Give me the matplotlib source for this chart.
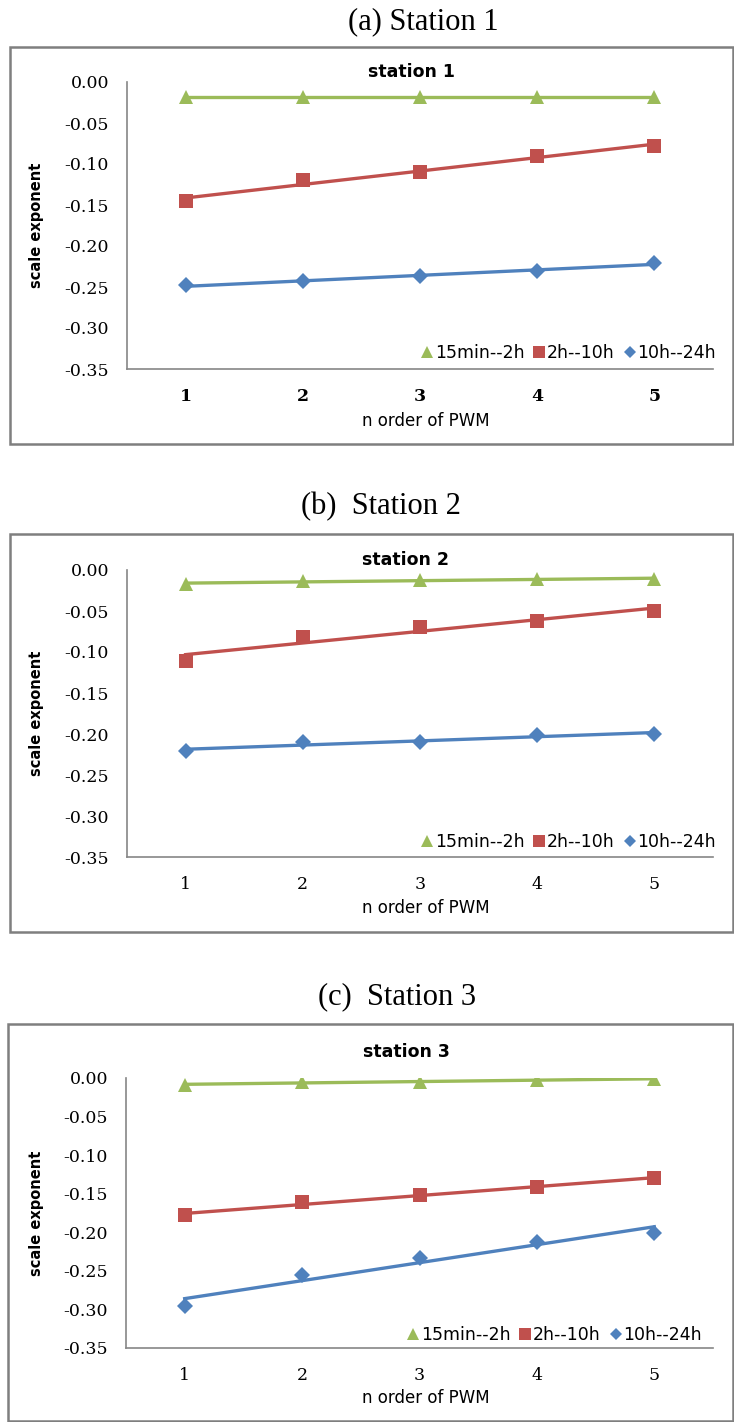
import numpy as np
import matplotlib
matplotlib.use("Agg")
import matplotlib.pyplot as plt
from matplotlib.patches import Rectangle
from matplotlib.lines import Line2D

W, H = 734, 1422

orders = [1, 2, 3, 4, 5]
series_names = ["15min--2h", "2h--10h", "10h--24h"]
panel_titles = ["(a) Station 1", "(b)  Station 2", "(c)  Station 3"]
chart_titles = ["station 1", "station 2", "station 3"]
yticks = [0.00, -0.05, -0.10, -0.15, -0.20, -0.25, -0.30, -0.35]

# scale exponents per station, one list per time-scale band
st1_short = [-0.018, -0.018, -0.018, -0.018, -0.018]
st1_mid = [-0.145, -0.120, -0.110, -0.090, -0.078]
st1_long = [-0.248, -0.243, -0.237, -0.230, -0.221]

st2_short = [-0.017, -0.014, -0.012, -0.011, -0.011]
st2_mid = [-0.111, -0.082, -0.069, -0.062, -0.050]
st2_long = [-0.221, -0.210, -0.210, -0.201, -0.200]

st3_short = [-0.009, -0.005, -0.005, -0.003, -0.001]
st3_mid = [-0.178, -0.161, -0.152, -0.141, -0.130]
st3_long = [-0.296, -0.255, -0.233, -0.212, -0.201]

stations = [
    [st1_short, st1_mid, st1_long],
    [st2_short, st2_mid, st2_long],
    [st3_short, st3_mid, st3_long],
]

colors = ["#9BBB59", "#C0504D", "#4F81BD"]
markers = ["^", "s", "D"]
msizes = [10.5, 10.5, 8]

# pixel layout of each panel: box, axes, text rows
layout = [
    dict(box=(10, 47, 733, 444), ax=(127, 82, 713, 369), title=(423, 22),
         sub=(412, 72), xlab=(426, 421), leg=(716, 353)),
    dict(box=(10, 534, 733, 932), ax=(127, 570, 713, 857), title=(381, 507),
         sub=(406, 560), xlab=(426, 908), leg=(716, 842)),
    dict(box=(8, 1024, 733, 1421), ax=(126, 1078, 713, 1348), title=(397, 997),
         sub=(406, 1052), xlab=(426, 1398), leg=(702, 1335)),
]


def fx(px):
    return px / W


def fy(py):
    return 1 - py / H


fig = plt.figure(figsize=(W / 100, H / 100), dpi=100)
fig.patch.set_facecolor("white")

for i, (data, lay) in enumerate(zip(stations, layout)):
    x0, y0, x1, y1 = lay["box"]
    fig.patches.append(Rectangle((fx(x0), fy(y1)), fx(x1) - fx(x0), fy(y0) - fy(y1),
                                 transform=fig.transFigure, fill=False,
                                 edgecolor="#7f7f7f", linewidth=1.8))
    fig.text(fx(lay["title"][0]), fy(lay["title"][1]), panel_titles[i],
             family="Liberation Serif", fontsize=22, ha="center", va="center")
    fig.text(fx(lay["sub"][0]), fy(lay["sub"][1]), chart_titles[i],
             family="DejaVu Sans", fontweight="bold", fontsize=12.5,
             ha="center", va="center")

    a0, b0, a1, b1 = lay["ax"]
    ax = fig.add_axes([fx(a0), fy(b1), fx(a1) - fx(a0), fy(b0) - fy(b1)])
    ax.set_xlim(0.5, 5.5)
    ax.set_ylim(-0.35, 0.0)

    handles = []
    for vals, c, m, ms, name in zip(data, colors, markers, msizes, series_names):
        ax.plot(orders, vals, linestyle="none", marker=m, markersize=ms,
                color=c, markeredgewidth=0, zorder=3)
        # linear trendline through the five points
        k, b = np.polyfit(orders, vals, 1)
        ax.plot([orders[0], orders[-1]], [k * orders[0] + b, k * orders[-1] + b],
                color=c, linewidth=2.4, zorder=4)
        handles.append(Line2D([], [], linestyle="none", marker=m, color=c,
                              markeredgewidth=0, markersize=ms * 0.8, label=name))

    for s in ["top", "right"]:
        ax.spines[s].set_visible(False)
    for s in ["left", "bottom"]:
        ax.spines[s].set_color("#868686")
        ax.spines[s].set_linewidth(1.2)

    ax.set_xticks(orders)
    ax.set_xticklabels([str(o) for o in orders], family="DejaVu Serif",
                       fontsize=12.5, fontweight="bold" if i == 0 else "normal")
    ax.set_yticks(yticks)
    ax.set_yticklabels([f"{v:.2f}" for v in yticks], family="DejaVu Serif", fontsize=12.5)
    ax.tick_params(axis="y", length=0, pad=13)
    ax.tick_params(axis="x", length=0, pad=14)

    fig.text(fx(37), (fy(b0) + fy(b1)) / 2, "scale exponent", rotation=90,
             family="DejaVu Sans", fontweight="bold", fontsize=10.5,
             ha="center", va="center")
    fig.text(fx(lay["xlab"][0]), fy(lay["xlab"][1]), "n order of PWM",
             family="DejaVu Sans", fontsize=12, ha="center", va="center")

    ax.legend(handles=handles, loc="center right",
              bbox_to_anchor=(fx(lay["leg"][0]), fy(lay["leg"][1])),
              bbox_transform=fig.transFigure, ncol=3, frameon=False,
              prop=dict(family="DejaVu Sans", size=12.5), handlelength=0.6,
              handletextpad=0.15, columnspacing=0.55, borderpad=0, borderaxespad=0)

fig.savefig("out.png", dpi=100, facecolor="white")
